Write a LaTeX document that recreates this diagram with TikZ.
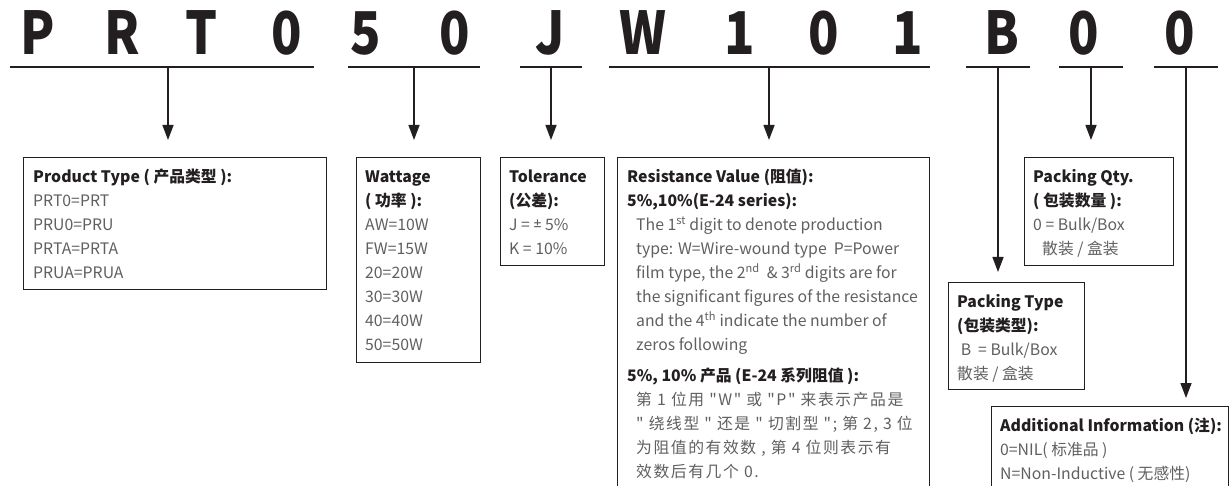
\documentclass[tikz,border=0pt]{standalone}
\usepackage{fontspec}
\setmainfont{Noto Sans CJK SC}[Ligatures=TeXOff]
\newfontfamily\cjkw{Noto Sans CJK SC}[Ligatures=TeXOff,LetterSpace=10]
\newfontfamily\latf{PT Sans}
\usetikzlibrary{arrows.meta,calc}
\definecolor{ink}{HTML}{231F20}
\definecolor{bodyc}{HTML}{5F6062}
\tikzset{
  digit/.style={font=\fontsize{59}{59}\selectfont\bfseries, text=ink, inner sep=0pt, anchor=base, xscale=0.85},
  uline/.style={line width=1.8pt, draw=ink},
  arr/.style={line width=1.4pt, draw=ink, -{Triangle[length=15pt,width=11pt]}},
  box/.style={draw=ink, line width=1.2pt, inner sep=0pt, anchor=north west},
  txt/.style={inner sep=0pt, anchor=north west, align=left, font=\fontsize{15.8}{24}\selectfont, text=bodyc},
}
\newcommand\hd[1]{{\bfseries\color{ink}#1}}
\begin{document}
\begin{tikzpicture}[x=1pt,y=-1pt]
\clip (0,0) rectangle (1229,486);
\fill[white] (0,0) rectangle (1229,486);
% code letters
\foreach \ch/\xx/\nm in {P/38/l1,R/122/l2,T/202/l3,0/287/l4,5/366/l5,0/455/l6,J/550/l7,W/643/l8,1/740/l9,0/824/l10,1/908/l11,B/1002/l12,0/1084/l13,0/1180/l14}
  \node[digit] (\nm) at (\xx,55) {\ch};
% underline coordinates
\coordinate (s1a) at (10,67);   \coordinate (s1b) at (314,67);
\coordinate (s2a) at (348,67);  \coordinate (s2b) at (480,67);
\coordinate (s3a) at (520,67);  \coordinate (s3b) at (582,67);
\coordinate (s4a) at (609,67);  \coordinate (s4b) at (930,67);
\coordinate (s5a) at (966,67);  \coordinate (s5b) at (1030,67);
\coordinate (s6a) at (1059,67); \coordinate (s6b) at (1123,67);
\coordinate (s7a) at (1154,67); \coordinate (s7b) at (1218,67);
\foreach \i in {1,...,7} \draw[uline] (s\i a) -- (s\i b);
% boxes
\node[box, minimum width=303pt, minimum height=132pt] (prod) at (23,157) {};
\node[box, minimum width=124pt, minimum height=205pt] (watt) at (356,157) {};
\node[box, minimum width=104pt, minimum height=108pt] (tol) at (500,157) {};
\node[box, minimum width=312pt, minimum height=360pt] (res) at (617,157) {};
\node[box, minimum width=136pt, minimum height=107pt] (ptype) at (948,282) {};
\node[box, minimum width=149pt, minimum height=108pt] (pqty) at (1024,157) {};
\node[box, minimum width=237pt, minimum height=120pt] (addi) at (991,406) {};
% arrow start/end coordinates
\coordinate (m1) at (168,67);  \coordinate (e1) at (168,140);
\coordinate (m2) at (414,67);  \coordinate (e2) at (414,140);
\coordinate (m3) at (551,67);  \coordinate (e3) at (551,140);
\coordinate (m4) at (769,67);  \coordinate (e4) at (769,140);
\coordinate (m5) at (998,67);  \coordinate (e5) at (998,272);
\coordinate (m6) at (1091,67); \coordinate (e6) at (1091,140);
\coordinate (m7) at (1186,67); \coordinate (e7) at (1186,398);
\foreach \i in {1,...,7} \draw[arr] (m\i) -- (e\i);
% texts
\node[txt] (tprod) at (33,165.2) {\strut\hd{Product Type ( 产品类型 ):}\\PRT0=PRT\\PRU0=PRU\\PRTA=PRTA\\PRUA=PRUA};
\node[txt] (twatt) at (365,165.2) {\strut\hd{Wattage}\\\hd{( 功率 ):}\\AW=10W\\FW=15W\\20=20W\\30=30W\\40=40W\\50=50W};
\node[txt] (ttol) at (509,165.2) {\strut\hd{Tolerance}\\\hd{(公差):}\\J = {\latf ±} 5\%\\K = 10\%};
\node[txt] (tres) at (627,165.2) {\strut\hd{Resistance Value (阻值):}\\
\hd{5\%,10\%(E-24 series):}\\
\hspace*{9pt}The 1\textsuperscript{st} digit to denote production\\
\hspace*{9pt}type: W=Wire-wound type\ \ P=Power\\
\hspace*{9pt}film type, the 2\textsuperscript{nd}\ \ \& 3\textsuperscript{rd} digits are for\\
\hspace*{9pt}the significant figures of the resistance\\
\hspace*{9pt}and the 4\textsuperscript{th} indicate the number of\\
\hspace*{9pt}zeros following\\[7pt]
\hd{5\%, 10\% 产品 (E-24 系列阻值 ):}\\
\hspace*{9pt}{\cjkw 第 1 位用 "W" 或 "P" 来表示产品是}\\
\hspace*{9pt}{\cjkw " 绕线型 " 还是 " 切割型 "; 第 2, 3 位}\\
\hspace*{9pt}{\cjkw 为阻值的有效数 , 第 4 位则表示有}\\
\hspace*{9pt}{\cjkw 效数后有几个 0.}};
\node[txt] (tpqty) at (1033,165.2) {\strut\hd{Packing Qty.}\\\hd{( 包装数量 ):}\\0 = Bulk/Box\\\hspace*{9pt}散装 / 盒装};
\node[txt] (tptype) at (957,290.2) {\strut\hd{Packing Type}\\\hd{(包装类型):}\\\ B\ \ = Bulk/Box\\散装 / 盒装};
\node[txt] (taddi) at (1000,414.2) {\strut\hd{Additional Information (注):}\\0=NIL( 标准品 )\\N=Non-Inductive ( 无感性)};
\end{tikzpicture}
\end{document}
